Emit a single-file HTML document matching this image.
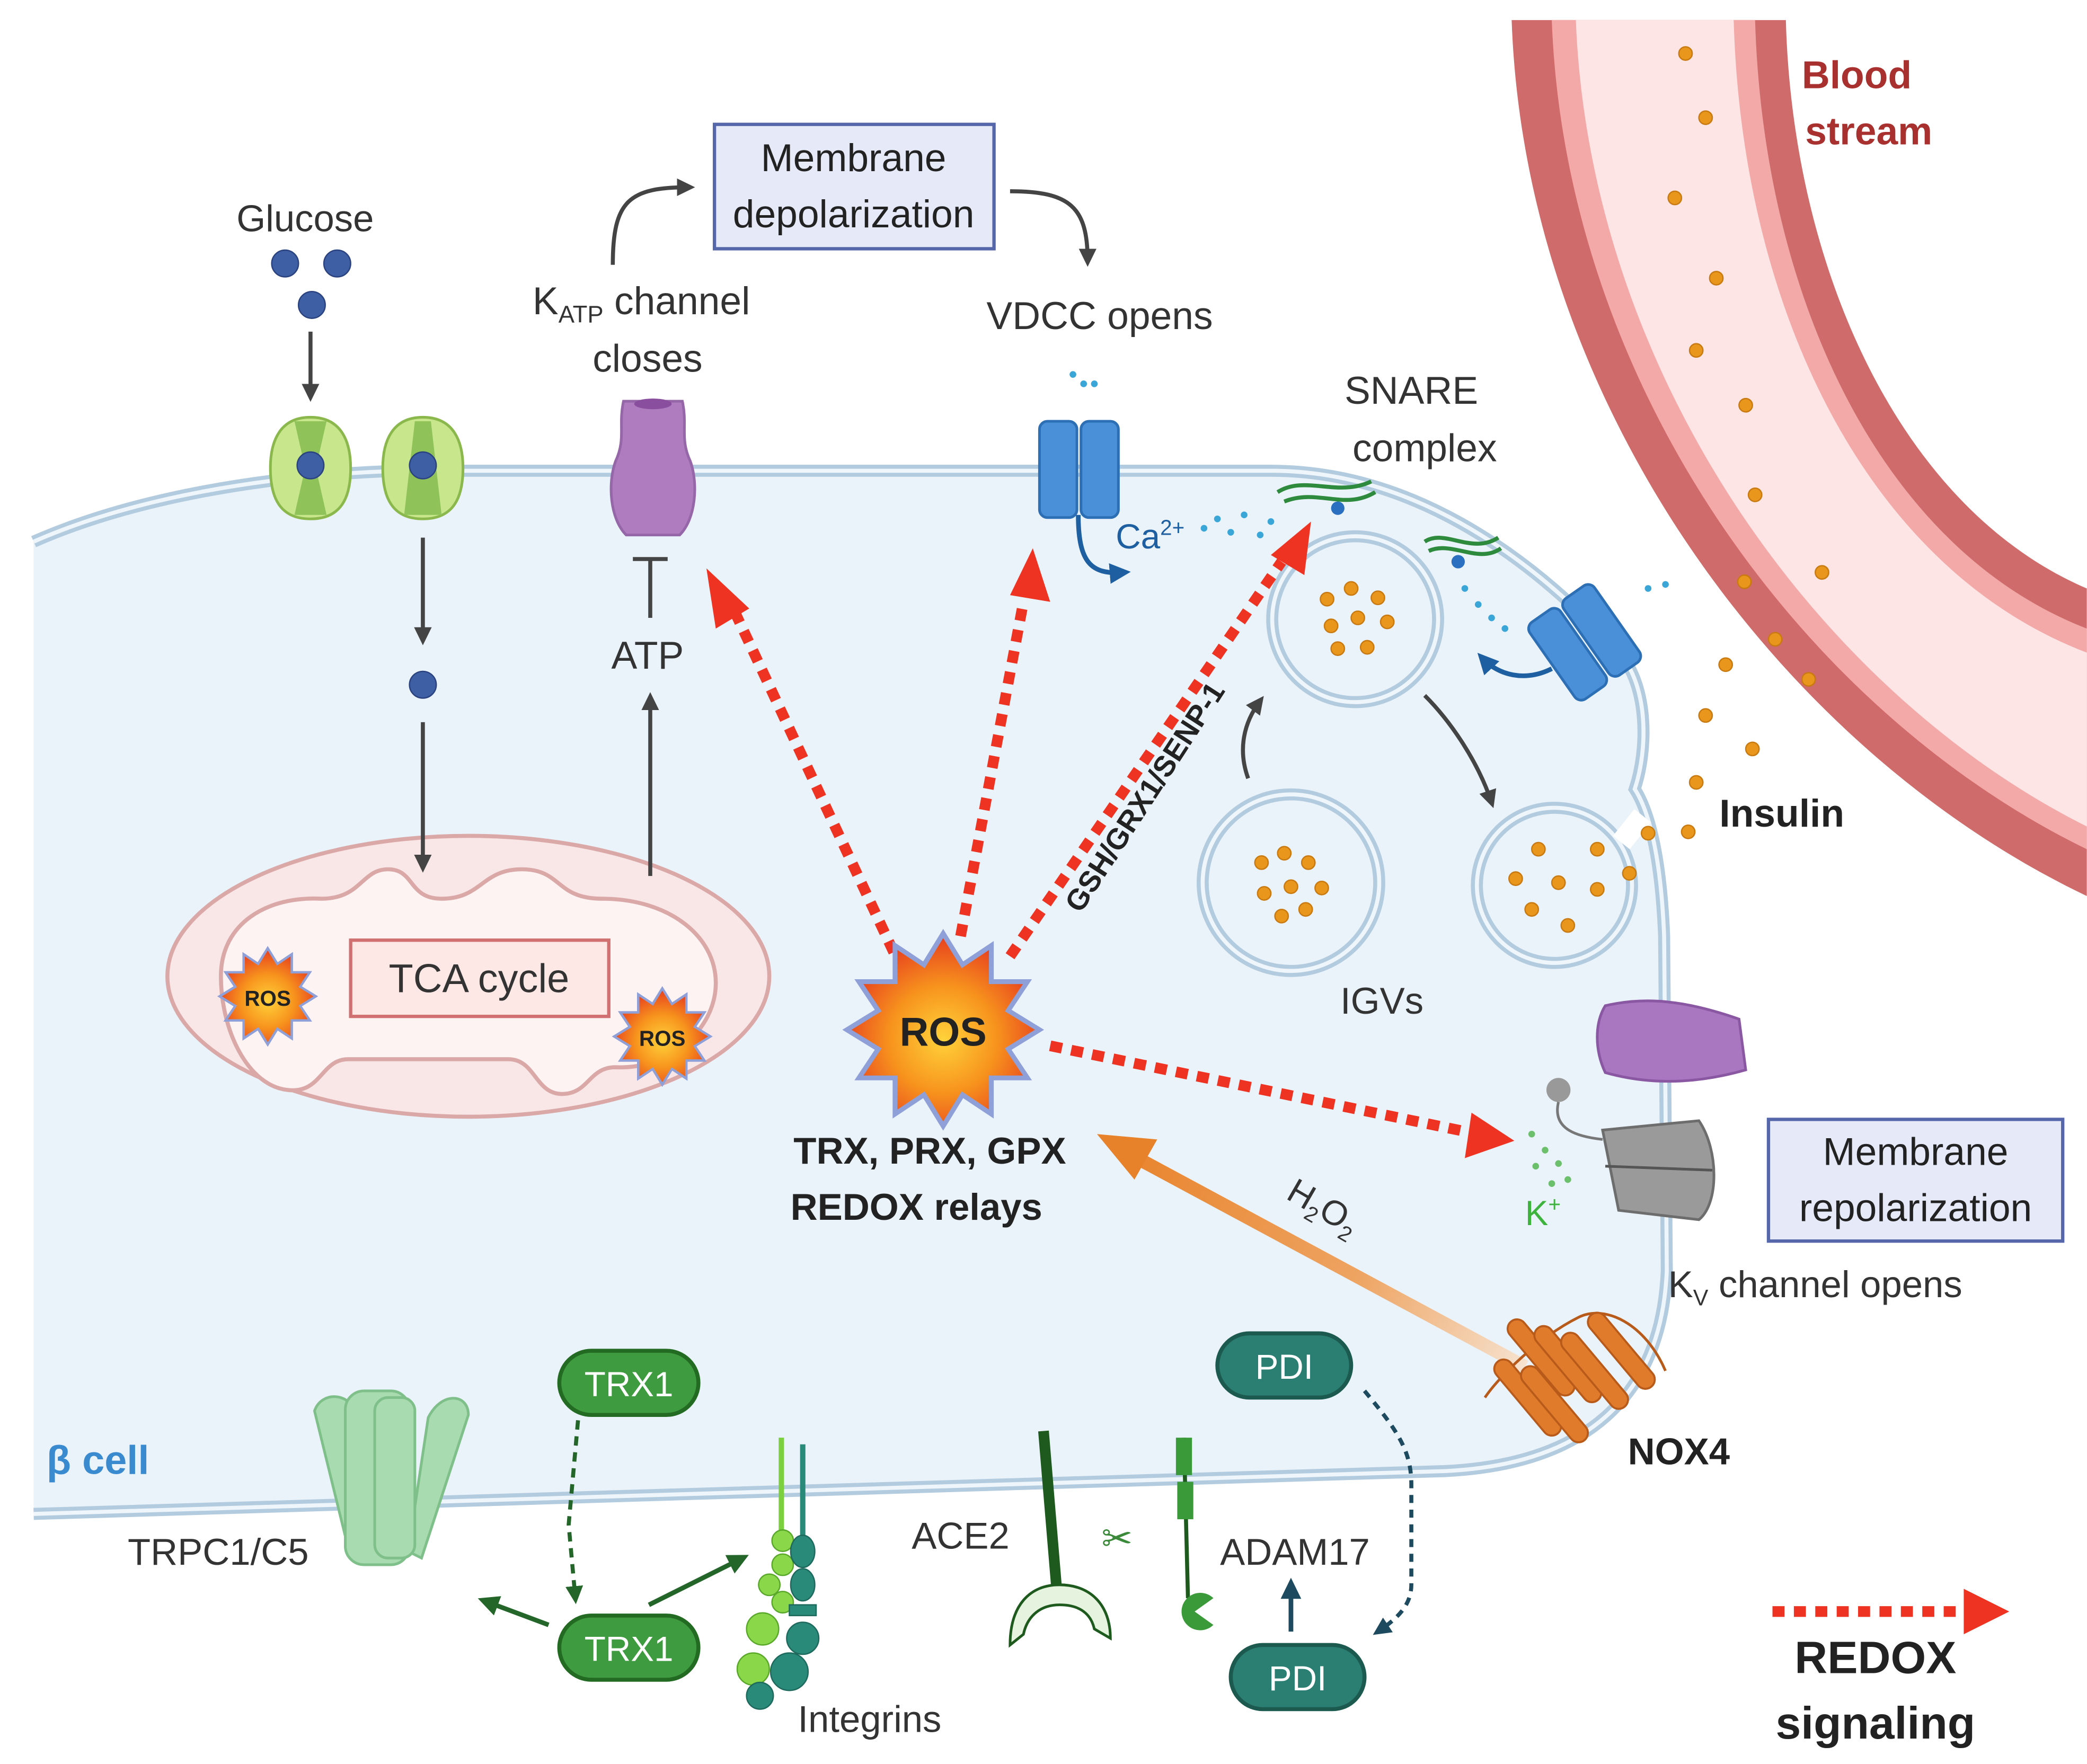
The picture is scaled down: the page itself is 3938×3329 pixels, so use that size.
<!DOCTYPE html>
<html><head><meta charset="utf-8"><style>html,body{margin:0;padding:0;background:#fff}svg{display:block}text{font-family:"Liberation Sans",sans-serif}</style></head><body>
<svg width="3938" height="3329" viewBox="0 0 1560 1319" xmlns="http://www.w3.org/2000/svg">
<defs>
<radialGradient id="rg" cx="50%" cy="55%" r="55%"><stop offset="0" stop-color="#ffd23a"/><stop offset="0.5" stop-color="#f7941d"/><stop offset="1" stop-color="#e63b1f"/></radialGradient>
<linearGradient id="og" x1="1140" y1="1020" x2="830" y2="855" gradientUnits="userSpaceOnUse"><stop offset="0" stop-color="#f6e2cf"/><stop offset="0.4" stop-color="#eea462"/><stop offset="1" stop-color="#e8822a"/></linearGradient>
<marker id="ah" markerWidth="6" markerHeight="6" refX="3" refY="3" orient="auto" markerUnits="strokeWidth"><path d="M0,0.8 L4.5,3 L0,5.2Z" fill="#444"/></marker>
<marker id="ahg" markerWidth="6" markerHeight="6" refX="3" refY="3" orient="auto" markerUnits="strokeWidth"><path d="M0,0.8 L4.5,3 L0,5.2Z" fill="#24662a"/></marker>
<marker id="ahd" markerWidth="6" markerHeight="6" refX="3" refY="3" orient="auto" markerUnits="strokeWidth"><path d="M0,0.8 L4.5,3 L0,5.2Z" fill="#1d4a5e"/></marker>
<marker id="ahb" markerWidth="6" markerHeight="6" refX="3" refY="3" orient="auto" markerUnits="strokeWidth"><path d="M0,0.8 L4.5,3 L0,5.2Z" fill="#1d5fa0"/></marker>
<g id="burst"><polygon points="0,-40 8,-27 20,-35 20,-20 35,-20 27,-8 40,0 27,8 35,20 20,20 20,35 8,27 0,40 -8,27 -20,35 -20,20 -35,20 -27,8 -40,0 -27,-8 -35,-20 -20,-20 -20,-35 -8,-27" fill="url(#rg)" stroke="#8fa0d8" stroke-width="2"/></g>
</defs>
<rect width="1560" height="1319" fill="#fff"/>
<!-- blood vessel -->
<path d="M1130,15 C1140,300 1330,560 1560,670 L1560,440 C1420,380 1340,200 1335,15 Z" fill="#cf6b6b"/>
<path d="M1160,15 C1170,285 1345,530 1560,635 L1560,470 C1405,410 1318,220 1312,15 Z" fill="#f4a9a9"/>
<path d="M1178,15 C1188,275 1355,515 1560,618 L1560,488 C1395,425 1302,230 1296,15 Z" fill="#fde5e5"/>
<text x="1388" y="66" font-size="29" font-weight="bold" fill="#a8302e" text-anchor="middle">Blood</text>
<text x="1397" y="108" font-size="29" font-weight="bold" fill="#a8302e" text-anchor="middle">stream</text>
<!-- cell -->
<path d="M25,405 C100,372 200,355 300,352 L950,352 C1050,352 1140,410 1212,490 C1232,515 1232,560 1222,590 C1235,610 1242,650 1244,700 L1246,950 C1242,1045 1185,1095 1080,1100 L25,1132" fill="#eaf2fa" stroke="#b2cbde" stroke-width="9"/>
<path d="M25,405 C100,372 200,355 300,352 L950,352 C1050,352 1140,410 1212,490 C1232,515 1232,560 1222,590 C1235,610 1242,650 1244,700 L1246,950 C1242,1045 1185,1095 1080,1100 L25,1132" fill="none" stroke="#eef5fb" stroke-width="3"/>
<!-- fusing vesicle -->
<circle cx="1162" cy="662" r="58" fill="#eaf2fa" stroke="#b2cbde" stroke-width="9"/>
<circle cx="1162" cy="662" r="58" fill="none" stroke="#eef5fb" stroke-width="3"/>
<path d="M1212,630 L1228,610" fill="none" stroke="#fff" stroke-width="16"/>
<!-- docked vesicle -->
<circle cx="1013" cy="463" r="62" fill="#eaf2fa" stroke="#b2cbde" stroke-width="9"/>
<circle cx="1013" cy="463" r="62" fill="none" stroke="#eef5fb" stroke-width="3"/>
<circle cx="965" cy="660" r="66" fill="#eaf2fa" stroke="#b2cbde" stroke-width="9"/>
<circle cx="965" cy="660" r="66" fill="none" stroke="#eef5fb" stroke-width="3"/>
<g fill="#e8961c" stroke="#c97a10" stroke-width="1">
<circle cx="1260" cy="40" r="5"/><circle cx="1275" cy="88" r="5"/><circle cx="1252" cy="148" r="5"/><circle cx="1283" cy="208" r="5"/><circle cx="1268" cy="262" r="5"/><circle cx="1305" cy="303" r="5"/><circle cx="1312" cy="370" r="5"/><circle cx="1304" cy="435" r="5"/><circle cx="1362" cy="428" r="5"/><circle cx="1327" cy="478" r="5"/><circle cx="1352" cy="508" r="5"/><circle cx="1290" cy="497" r="5"/><circle cx="1275" cy="535" r="5"/><circle cx="1310" cy="560" r="5"/><circle cx="1268" cy="585" r="5"/><circle cx="1262" cy="622" r="5"/><circle cx="1232" cy="623" r="5"/><circle cx="1218" cy="653" r="5"/><circle cx="1194" cy="635" r="5"/><circle cx="1194" cy="665" r="5"/><circle cx="1150" cy="635" r="5"/><circle cx="1165" cy="660" r="5"/><circle cx="1133" cy="657" r="5"/><circle cx="1145" cy="680" r="5"/><circle cx="1172" cy="692" r="5"/>
<circle cx="992" cy="448" r="5"/><circle cx="1010" cy="440" r="5"/><circle cx="1030" cy="447" r="5"/><circle cx="995" cy="468" r="5"/><circle cx="1015" cy="462" r="5"/><circle cx="1037" cy="465" r="5"/><circle cx="1000" cy="485" r="5"/><circle cx="1022" cy="484" r="5"/>
<circle cx="943" cy="645" r="5"/><circle cx="960" cy="638" r="5"/><circle cx="978" cy="645" r="5"/><circle cx="945" cy="668" r="5"/><circle cx="965" cy="663" r="5"/><circle cx="988" cy="664" r="5"/><circle cx="958" cy="685" r="5"/><circle cx="976" cy="680" r="5"/>
</g>
<text x="1033" y="758" font-size="28" fill="#333" text-anchor="middle">IGVs</text>
<text x="1332" y="618" font-size="29" font-weight="bold" fill="#222" text-anchor="middle">Insulin</text>
<text x="1055" y="302" font-size="29" fill="#333" text-anchor="middle">SNARE</text>
<text x="1065" y="345" font-size="29" fill="#333" text-anchor="middle">complex</text>
<!-- SNARE -->
<path d="M955,368 C975,355 1000,372 1025,360 M960,375 C985,365 1005,382 1028,368" stroke="#2e8b3e" stroke-width="3" fill="none"/>
<path d="M1065,405 C1080,395 1100,415 1120,402 M1068,412 C1085,404 1105,422 1122,410" stroke="#2e8b3e" stroke-width="3" fill="none"/>
<circle cx="1000" cy="380" r="5" fill="#2a6fc0"/><circle cx="1090" cy="420" r="5" fill="#2a6fc0"/>
<!-- Glucose -->
<text x="228" y="173" font-size="28" fill="#333" text-anchor="middle">Glucose</text>
<g fill="#3e5fa3" stroke="#2a4380"><circle cx="213" cy="197" r="10"/><circle cx="252" cy="197" r="10"/><circle cx="233" cy="228" r="10"/><circle cx="316" cy="512" r="10"/></g>
<!-- GLUT -->
<g><path d="M232,312 C255,312 262,330 262,350 C262,372 255,388 232,388 C209,388 202,372 202,350 C202,330 209,312 232,312Z" fill="#c8e68c" stroke="#8bb84c" stroke-width="2"/><path d="M220,315 L244,315 L236,350 L244,385 L220,385 L228,350Z" fill="#8fc35a"/><circle cx="232" cy="348" r="10" fill="#3e5fa3" stroke="#2a4380"/>
<path d="M316,312 C339,312 346,330 346,350 C346,372 339,388 316,388 C293,388 286,372 286,350 C286,330 293,312 316,312Z" fill="#c8e68c" stroke="#8bb84c" stroke-width="2"/><path d="M310,315 L322,315 L330,385 L302,385Z" fill="#8fc35a"/><circle cx="316" cy="348" r="10" fill="#3e5fa3" stroke="#2a4380"/></g>
<!-- Mito -->
<ellipse cx="350" cy="730" rx="225" ry="105" fill="#f9e7e7" stroke="#dba8a8" stroke-width="3"/>
<path d="M165,730 C165,690 200,670 240,672 C270,672 270,650 290,650 C310,650 305,672 330,672 C360,672 360,650 390,650 C420,650 415,672 450,672 C500,672 535,700 535,735 C535,770 500,800 460,798 C440,798 440,818 420,818 C400,818 400,792 380,792 L260,792 C240,792 240,818 215,815 C185,812 165,770 165,730Z" fill="#fdf3f3" stroke="#dba8a8" stroke-width="3"/>
<rect x="262" y="703" width="193" height="57" fill="#fde8e6" stroke="#d07070" stroke-width="2.5"/>
<text x="358" y="742" font-size="30" fill="#333" text-anchor="middle">TCA cycle</text>
<use href="#burst" transform="translate(200,745) scale(0.9)"/>
<use href="#burst" transform="translate(495,775) scale(0.9)"/>
<text x="200" y="752" font-size="16" font-weight="bold" fill="#222" text-anchor="middle">ROS</text>
<text x="495" y="782" font-size="16" font-weight="bold" fill="#222" text-anchor="middle">ROS</text>
<g stroke="#444" stroke-width="3" fill="none" marker-end="url(#ah)">
<line x1="232" y1="248" x2="232" y2="296"/><line x1="316" y1="402" x2="316" y2="478"/><line x1="316" y1="540" x2="316" y2="648"/><line x1="486" y1="655" x2="486" y2="522"/>
<path d="M458,198 C458,150 470,140 515,140"/><path d="M755,143 C800,143 813,155 813,195"/>
<path d="M933,582 C925,560 930,540 942,524"/><path d="M1065,520 C1085,540 1105,570 1115,600"/>
</g>
<!-- ATP -->
<text x="484" y="500" font-size="29" fill="#333" text-anchor="middle">ATP</text>
<line x1="486" y1="462" x2="486" y2="418" stroke="#444" stroke-width="3"/><line x1="473" y1="418" x2="499" y2="418" stroke="#444" stroke-width="3"/>
<!-- KATP -->
<path d="M466,300 L510,300 C514,318 508,328 516,345 C522,362 520,388 508,400 L468,400 C456,388 454,362 460,345 C468,328 462,318 466,300Z" fill="#b07cc0" stroke="#9566a8" stroke-width="2"/>
<ellipse cx="488" cy="302" rx="14" ry="4" fill="#8a4e9e"/>
<text x="398" y="235" font-size="29" fill="#333">K<tspan font-size="18" dy="6">ATP</tspan><tspan dy="-6"> channel</tspan></text>
<text x="484" y="278" font-size="29" fill="#333" text-anchor="middle">closes</text>
<!-- Depol box -->
<rect x="534" y="93" width="209" height="93" fill="#e6e9f8" stroke="#5566aa" stroke-width="2.5"/>
<text x="638" y="128" font-size="29" fill="#222" text-anchor="middle">Membrane</text>
<text x="638" y="170" font-size="29" fill="#222" text-anchor="middle">depolarization</text>
<text x="822" y="246" font-size="29" fill="#333" text-anchor="middle">VDCC opens</text>
<!-- VDCC -->
<rect x="777" y="315" width="28" height="72" rx="6" fill="#4a90d9" stroke="#2d6fb5" stroke-width="2"/>
<rect x="808" y="315" width="28" height="72" rx="6" fill="#4a90d9" stroke="#2d6fb5" stroke-width="2"/>
<path d="M806,385 C806,420 815,430 840,428" stroke="#1d5fa0" stroke-width="3.5" fill="none" marker-end="url(#ahb)"/>
<text x="834" y="410" font-size="26" fill="#1d5fa0">Ca<tspan font-size="16" dy="-10">2+</tspan></text>
<g fill="#3aa6d8"><circle cx="802" cy="280" r="2.5"/><circle cx="810" cy="287" r="2.5"/><circle cx="818" cy="287" r="2.5"/><circle cx="900" cy="395" r="2.5"/><circle cx="910" cy="388" r="2.5"/><circle cx="920" cy="398" r="2.5"/><circle cx="930" cy="385" r="2.5"/><circle cx="942" cy="400" r="2.5"/><circle cx="950" cy="390" r="2.5"/><circle cx="1095" cy="440" r="2.5"/><circle cx="1105" cy="452" r="2.5"/><circle cx="1115" cy="462" r="2.5"/><circle cx="1125" cy="470" r="2.5"/><circle cx="1232" cy="440" r="2.5"/><circle cx="1245" cy="437" r="2.5"/></g>
<g transform="translate(1185,480) rotate(-35)"><rect x="-30" y="-35" width="28" height="70" rx="6" fill="#4a90d9" stroke="#2d6fb5" stroke-width="2"/><rect x="1" y="-35" width="28" height="70" rx="6" fill="#4a90d9" stroke="#2d6fb5" stroke-width="2"/></g>
<path d="M1160,500 C1140,510 1120,505 1108,492" stroke="#1d5fa0" stroke-width="3.5" fill="none" marker-end="url(#ahb)"/>
<!-- ROS main -->
<g stroke="#ee3322" stroke-width="8" stroke-dasharray="9 7" fill="none">
<line x1="668" y1="712" x2="548" y2="455"/><line x1="718" y1="700" x2="765" y2="450"/><line x1="755" y1="715" x2="958" y2="420"/><line x1="785" y1="782" x2="1095" y2="846"/>
<line x1="1325" y1="1205" x2="1470" y2="1205"/>
</g>
<g fill="#ee3322">
<polygon points="528,425 560,455 535,470"/><polygon points="772,410 785,450 755,445"/><polygon points="980,390 975,430 950,415"/><polygon points="1132,853 1095,866 1100,832"/><polygon points="1502,1205 1468,1188 1468,1222"/>
</g>
<use href="#burst" transform="translate(705,770) scale(1.8)"/>
<text x="705" y="782" font-size="30" font-weight="bold" fill="#222" text-anchor="middle">ROS</text>
<text x="695" y="870" font-size="28" font-weight="bold" fill="#222" text-anchor="middle">TRX, PRX, GPX</text>
<text x="685" y="912" font-size="28" font-weight="bold" fill="#222" text-anchor="middle">REDOX relays</text>
<text transform="translate(862,600) rotate(-57)" font-size="22" font-weight="bold" fill="#222" text-anchor="middle">GSH/GRX1/SENP-1</text>
<!-- H2O2 -->
<line x1="1140" y1="1022" x2="850" y2="866" stroke="url(#og)" stroke-width="10"/>
<polygon points="820,848 865,852 848,882" fill="#e8822a"/>
<text transform="translate(985,910) rotate(30)" font-size="26" fill="#333" text-anchor="middle">H<tspan font-size="16" dy="6">2</tspan><tspan dy="-6">O</tspan><tspan font-size="16" dy="6">2</tspan></text>
<!-- purple & Kv channel -->
<path d="M1200,752 C1230,745 1260,748 1300,762 L1305,800 C1270,810 1235,812 1200,802 C1192,785 1192,765 1200,752Z" fill="#a877bf" stroke="#8a58a2" stroke-width="2"/>
<path d="M1198,845 L1270,838 C1285,860 1285,900 1270,912 L1210,905 Z" fill="#9a9a9a" stroke="#6d6d6d" stroke-width="2"/>
<line x1="1200" y1="872" x2="1280" y2="875" stroke="#555" stroke-width="2"/>
<circle cx="1165" cy="815" r="9" fill="#999"/><path d="M1165,824 C1160,845 1180,850 1198,852" stroke="#777" stroke-width="2" fill="none"/>
<g fill="#6cc06c"><circle cx="1145" cy="848" r="2.5"/><circle cx="1155" cy="860" r="2.5"/><circle cx="1148" cy="872" r="2.5"/><circle cx="1165" cy="870" r="2.5"/><circle cx="1172" cy="882" r="2.5"/><circle cx="1160" cy="885" r="2.5"/></g>
<text x="1140" y="916" font-size="26" fill="#3db33d">K<tspan font-size="16" dy="-10">+</tspan></text>
<rect x="1322" y="837" width="220" height="91" fill="#e6e9f8" stroke="#5566aa" stroke-width="2.5"/>
<text x="1432" y="871" font-size="29" fill="#222" text-anchor="middle">Membrane</text>
<text x="1432" y="913" font-size="29" fill="#222" text-anchor="middle">repolarization</text>
<text x="1247" y="970" font-size="28" fill="#333">K<tspan font-size="17" dy="6">V</tspan><tspan dy="-6"> channel opens</tspan></text>
<!-- NOX4 -->
<path d="M1110,1045 C1120,1030 1150,1000 1180,985 C1200,975 1230,990 1245,1025" stroke="#b85a1a" stroke-width="2" fill="none"/>
<g fill="#e07b2c" stroke="#b85a1a" stroke-width="1.5">
<rect x="1145" y="980" width="14" height="70" rx="7" transform="rotate(-40 1152 1015)"/>
<rect x="1165" y="985" width="14" height="70" rx="7" transform="rotate(-40 1172 1020)"/>
<rect x="1185" y="990" width="14" height="70" rx="7" transform="rotate(-40 1192 1025)"/>
<rect x="1135" y="1010" width="14" height="70" rx="7" transform="rotate(-40 1142 1045)"/>
<rect x="1155" y="1015" width="14" height="70" rx="7" transform="rotate(-40 1162 1050)"/>
<rect x="1205" y="975" width="14" height="70" rx="7" transform="rotate(-40 1212 1010)"/>
</g>
<text x="1255" y="1095" font-size="28" font-weight="bold" fill="#222" text-anchor="middle">NOX4</text>
<!-- bottom -->
<text x="73" y="1102" font-size="30" font-weight="bold" fill="#3a8ad0" text-anchor="middle">β cell</text>
<g fill="#a9dbb0" stroke="#7fbf8a" stroke-width="2">
<path d="M235,1055 C240,1040 262,1040 268,1060 L275,1160 L262,1165 Z"/>
<path d="M320,1060 C330,1040 350,1042 350,1058 L315,1165 L305,1160 Z"/>
<rect x="258" y="1040" width="48" height="130" rx="14"/>
<rect x="280" y="1045" width="30" height="120" rx="10"/>
</g>
<text x="163" y="1170" font-size="28" fill="#333" text-anchor="middle">TRPC1/C5</text>
<g><rect x="418" y="1010" width="104" height="48" rx="24" fill="#3f9b3f" stroke="#236b23" stroke-width="3"/><text x="470" y="1044" font-size="26" fill="#fff" text-anchor="middle">TRX1</text>
<rect x="418" y="1208" width="104" height="48" rx="24" fill="#3f9b3f" stroke="#236b23" stroke-width="3"/><text x="470" y="1242" font-size="26" fill="#fff" text-anchor="middle">TRX1</text></g>
<path d="M432,1062 L425,1140 L430,1195" stroke="#24662a" stroke-width="3" stroke-dasharray="7 5" fill="none" marker-end="url(#ahg)"/>
<line x1="410" y1="1215" x2="362" y2="1197" stroke="#24662a" stroke-width="3.5" marker-end="url(#ahg)"/>
<line x1="485" y1="1200" x2="555" y2="1165" stroke="#24662a" stroke-width="3.5" marker-end="url(#ahg)"/>
<!-- Integrins -->
<line x1="584" y1="1075" x2="584" y2="1150" stroke="#7ccf3f" stroke-width="4"/><line x1="600" y1="1080" x2="600" y2="1150" stroke="#2a8a7a" stroke-width="4"/>
<g fill="#8ad84a" stroke="#5aa82a"><circle cx="585" cy="1152" r="8"/><circle cx="585" cy="1170" r="8"/><circle cx="575" cy="1185" r="8"/><circle cx="585" cy="1198" r="8"/><circle cx="570" cy="1218" r="12"/><circle cx="563" cy="1248" r="12"/></g>
<g fill="#2a8a7a" stroke="#1d6a5d"><ellipse cx="600" cy="1160" rx="9" ry="12"/><rect x="590" y="1200" width="20" height="8"/><ellipse cx="600" cy="1185" rx="9" ry="12"/><circle cx="600" cy="1225" r="12"/><circle cx="590" cy="1250" r="14"/><circle cx="568" cy="1268" r="10"/></g>
<text x="650" y="1295" font-size="28" fill="#333" text-anchor="middle">Integrins</text>
<text x="718" y="1158" font-size="28" fill="#333" text-anchor="middle">ACE2</text>
<line x1="780" y1="1070" x2="790" y2="1190" stroke="#1e5a1e" stroke-width="8"/>
<path d="M755,1230 C755,1200 770,1185 792,1185 C815,1185 830,1200 830,1225 L818,1218 C815,1205 805,1200 792,1200 C778,1200 768,1208 765,1222 Z" fill="#e6f3df" stroke="#1e5a1e" stroke-width="2"/>
<text x="835" y="1160" font-size="28" fill="#3a8a3a" text-anchor="middle">✂</text>
<line x1="885" y1="1075" x2="888" y2="1195" stroke="#1e5a1e" stroke-width="3"/>
<rect x="879" y="1075" width="12" height="28" fill="#3a9a3a"/><rect x="880" y="1108" width="12" height="28" fill="#3a9a3a"/>
<path d="M893,1205 L907,1195 A14,14 0 1,0 907,1215 Z" fill="#3a9a3a"/>
<text x="968" y="1170" font-size="28" fill="#333" text-anchor="middle">ADAM17</text>
<rect x="910" y="997" width="100" height="48" rx="24" fill="#2b7f72" stroke="#1c5a50" stroke-width="3"/><text x="960" y="1031" font-size="26" fill="#fff" text-anchor="middle">PDI</text>
<rect x="920" y="1230" width="100" height="48" rx="24" fill="#2b7f72" stroke="#1c5a50" stroke-width="3"/><text x="970" y="1264" font-size="26" fill="#fff" text-anchor="middle">PDI</text>
<path d="M1020,1040 C1045,1070 1055,1085 1055,1110 L1055,1185 C1055,1200 1045,1210 1030,1220" stroke="#1d4a5e" stroke-width="3" stroke-dasharray="6 5" fill="none" marker-end="url(#ahd)"/>
<line x1="965" y1="1220" x2="965" y2="1185" stroke="#1d4a5e" stroke-width="3.5" marker-end="url(#ahd)"/>
<text x="1402" y="1251" font-size="34" font-weight="bold" fill="#222" text-anchor="middle">REDOX</text>
<text x="1402" y="1300" font-size="34" font-weight="bold" fill="#222" text-anchor="middle">signaling</text>
</svg>
</body></html>
